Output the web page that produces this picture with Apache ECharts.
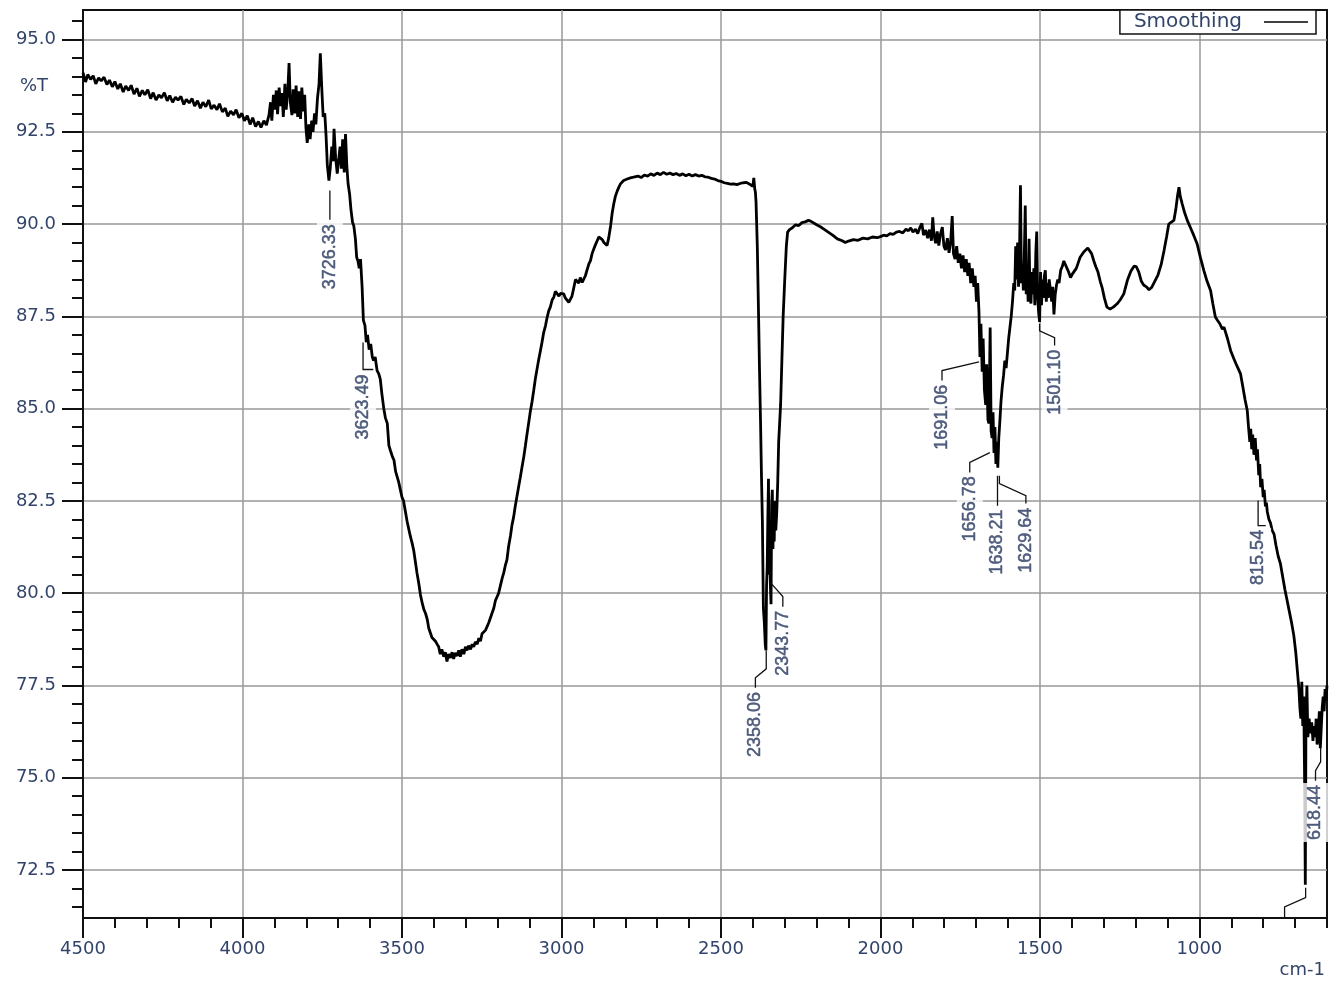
<!DOCTYPE html>
<html style="height: 100%">

<head>
    <meta charset="utf-8">
</head>

<body style="height: 100%; margin: 0; background: #fff">
    <div id="container" style="width: 1338px; height: 982px"></div>
    <script type="text/javascript" src="https://cdn.jsdelivr.net/npm/echarts@6/dist/echarts.min.js"></script>
    <script type="text/javascript">
        // spectrum: [wavenumber cm-1, %T]
        var flat4500 = [
            [4500, 94.10], [4492, 93.85], [4485, 94.05], [4476, 93.92], [4468, 94.02], [4460, 93.80], [4451, 93.96],
            [4443, 93.88], [4434, 93.98], [4425, 93.78], [4417, 93.90], [4408, 93.72], [4400, 93.86], [4391, 93.66],
            [4383, 93.80], [4374, 93.58], [4366, 93.74], [4357, 93.62], [4349, 93.76], [4340, 93.52], [4331, 93.68],
            [4323, 93.46], [4314, 93.62], [4306, 93.50], [4297, 93.64], [4288, 93.40], [4280, 93.56], [4271, 93.36],
            [4262, 93.50], [4254, 93.42], [4245, 93.56], [4236, 93.34], [4228, 93.48], [4219, 93.30], [4210, 93.44],
            [4202, 93.36], [4193, 93.46], [4184, 93.24], [4176, 93.38], [4167, 93.28], [4158, 93.40], [4150, 93.20],
            [4141, 93.34], [4132, 93.14], [4124, 93.30], [4115, 93.18], [4106, 93.36], [4098, 93.12], [4089, 93.22],
            [4080, 93.10], [4072, 93.26], [4063, 93.04], [4054, 93.14], [4046, 92.92], [4037, 93.06], [4028, 92.96],
            [4020, 93.10], [4011, 92.88], [4002, 93.00], [3994, 92.80], [3985, 92.94], [3976, 92.70], [3968, 92.88],
            [3959, 92.64], [3950, 92.78], [3942, 92.62], [3933, 92.80], [3925, 92.68]
        ];
        var noisy3900 = [
            [3917, 92.95], [3912, 93.30], [3908, 92.80], [3903, 93.50], [3899, 93.10], [3894, 93.62], [3890, 92.98],
            [3885, 93.70], [3881, 93.20], [3876, 93.55], [3872, 92.90], [3867, 93.80], [3863, 93.10], [3858, 93.60],
            [3854, 94.36], [3850, 93.30], [3845, 92.95], [3841, 93.65], [3836, 93.00], [3832, 93.75], [3827, 92.90],
            [3823, 93.60], [3818, 92.85], [3814, 93.70], [3809, 93.05], [3805, 93.50], [3801, 92.60], [3797, 92.20],
            [3792, 92.70], [3788, 92.30], [3783, 92.80], [3779, 92.50], [3774, 93.00], [3770, 92.70], [3765, 93.40],
            [3760, 93.80], [3756, 94.63], [3751, 93.60], [3747, 92.90], [3742, 93.00], [3738, 92.40], [3734, 91.60],
            [3729, 91.18], [3725, 91.50], [3720, 92.10], [3716, 91.70], [3713, 92.58], [3708, 91.80], [3703, 91.37],
            [3699, 91.70], [3694, 92.10], [3690, 91.50], [3686, 92.30], [3681, 91.40], [3677, 92.44], [3673, 91.60],
            [3669, 91.10], [3664, 90.80], [3660, 90.40], [3655, 90.05], [3651, 89.95], [3646, 89.60], [3642, 89.10],
            [3638, 89.00], [3634, 88.80], [3630, 89.05], [3625, 88.30], [3621, 87.40], [3616, 87.25], [3612, 86.80],
            [3608, 87.00], [3603, 86.60]
        ];
        var ohBand = [
            [3598, 86.75], [3593, 86.40], [3589, 86.30], [3584, 86.40], [3578, 86.03], [3573, 85.95], [3568, 85.80],
            [3563, 85.40], [3557, 85.00], [3552, 84.75], [3546, 84.60], [3541, 84.00], [3536, 83.86], [3530, 83.70],
            [3525, 83.60], [3520, 83.30], [3515, 83.25], [3510, 83.00], [3505, 82.80], [3500, 82.60], [3495, 82.50],
            [3489, 82.20], [3484, 81.95], [3479, 81.75], [3474, 81.55], [3468, 81.35], [3463, 81.15], [3458, 80.85],
            [3453, 80.55], [3447, 80.25], [3442, 79.95], [3437, 79.75], [3431, 79.55], [3426, 79.45], [3421, 79.30],
            [3416, 79.05], [3411, 79.00], [3406, 78.80], [3400, 78.75], [3395, 78.70], [3390, 78.62], [3385, 78.55],
            [3380, 78.35], [3375, 78.48], [3369, 78.28], [3364, 78.40], [3359, 78.15], [3354, 78.35], [3348, 78.25],
            [3343, 78.40], [3338, 78.22], [3333, 78.38], [3327, 78.30], [3322, 78.45], [3317, 78.28], [3312, 78.48],
            [3306, 78.35], [3301, 78.55], [3296, 78.45], [3291, 78.58], [3285, 78.48], [3280, 78.62], [3275, 78.55],
            [3270, 78.68], [3264, 78.62], [3259, 78.78], [3254, 78.70], [3249, 78.90], [3244, 78.88], [3238, 79.00],
            [3233, 79.05], [3228, 79.20], [3223, 79.15], [3218, 79.45], [3212, 79.60], [3207, 79.80], [3202, 79.75],
            [3197, 80.00], [3192, 80.05], [3186, 80.40], [3181, 80.55], [3176, 80.75], [3171, 80.90], [3166, 81.25],
            [3160, 81.55], [3155, 81.85], [3150, 82.06], [3145, 82.35], [3140, 82.60], [3134, 82.90], [3129, 83.14],
            [3124, 83.40], [3118, 83.70], [3113, 84.00], [3108, 84.31], [3103, 84.60], [3098, 84.90], [3092, 85.20],
            [3087, 85.49], [3082, 85.80], [3077, 86.05], [3072, 86.30], [3066, 86.57], [3061, 86.80], [3056, 87.05],
            [3050, 87.25], [3045, 87.47], [3040, 87.65], [3035, 87.75], [3029, 87.95], [3024, 88.02], [3019, 88.18],
            [3014, 88.15], [3008, 88.05], [3003, 88.12], [2998, 88.08], [2993, 88.11], [2988, 88.00], [2982, 87.95],
            [2977, 87.88], [2972, 87.84], [2967, 88.05], [2962, 88.25], [2956, 88.50], [2951, 88.47], [2946, 88.40],
            [2941, 88.55], [2935, 88.42], [2930, 88.38], [2925, 88.60], [2920, 88.75], [2914, 88.92], [2909, 89.01],
            [2904, 89.20], [2899, 89.32], [2893, 89.45], [2888, 89.55], [2883, 89.65], [2878, 89.64], [2872, 89.58],
            [2867, 89.50], [2862, 89.45], [2857, 89.42], [2852, 89.62], [2846, 89.95], [2841, 90.30], [2836, 90.55],
            [2831, 90.75], [2825, 90.90], [2820, 91.00], [2815, 91.09], [2810, 91.10], [2805, 91.18], [2799, 91.15],
            [2794, 91.22], [2789, 91.20], [2784, 91.25], [2778, 91.22], [2774, 91.27], [2760, 91.30], [2750, 91.26],
            [2740, 91.33], [2730, 91.30], [2720, 91.36], [2710, 91.32], [2700, 91.38], [2690, 91.34], [2680, 91.40],
            [2670, 91.35], [2660, 91.38], [2650, 91.34], [2640, 91.37], [2630, 91.32], [2620, 91.36], [2610, 91.31],
            [2600, 91.35], [2590, 91.30], [2580, 91.34], [2570, 91.30], [2560, 91.32], [2550, 91.28], [2540, 91.27],
            [2530, 91.24], [2520, 91.22], [2510, 91.18], [2500, 91.16], [2490, 91.12], [2480, 91.10], [2470, 91.08],
            [2460, 91.09], [2450, 91.07], [2440, 91.10], [2430, 91.12], [2420, 91.13], [2410, 91.08], [2405, 91.05],
            [2400, 91.02], [2397, 91.25], [2394, 90.95], [2392, 90.87]
        ];
        var co2Band = [
            [2390, 90.60], [2386, 89.40], [2382, 87.50], [2379, 86.00], [2376, 84.70], [2373, 83.20], [2370, 81.90],
            [2367, 79.60], [2364, 79.20], [2361, 78.60], [2359, 78.45], [2357, 80.20], [2355, 80.70], [2353, 82.00],
            [2351, 83.10], [2349, 80.50], [2347, 81.80], [2345, 80.20], [2343, 79.70], [2341, 82.40], [2339, 82.80],
            [2337, 81.20], [2335, 82.10], [2333, 81.40], [2331, 82.50], [2328, 81.70], [2325, 82.20], [2322, 83.00],
            [2319, 84.10], [2316, 84.60], [2313, 85.10], [2309, 86.30], [2305, 87.50], [2300, 88.50], [2295, 89.40],
            [2291, 89.78], [2285, 89.85], [2276, 89.90], [2266, 89.98], [2256, 89.96], [2246, 90.04], [2236, 90.06],
            [2226, 90.10], [2219, 90.08]
        ];
        var midRange = [
            [2200, 89.98], [2187, 89.92], [2175, 89.85], [2167, 89.80], [2150, 89.70], [2135, 89.60], [2120, 89.55],
            [2110, 89.50], [2100, 89.54], [2085, 89.58], [2070, 89.56], [2055, 89.62], [2040, 89.60], [2025, 89.65],
            [2010, 89.63], [2000, 89.66], [1990, 89.70], [1980, 89.68], [1970, 89.74], [1960, 89.72], [1950, 89.78],
            [1940, 89.80], [1930, 89.76], [1920, 89.86], [1912, 89.82], [1905, 89.90], [1898, 89.78], [1890, 89.86],
            [1883, 89.74], [1876, 89.92], [1870, 90.02], [1865, 89.70], [1858, 89.84], [1852, 89.62], [1846, 89.85],
            [1840, 89.55], [1836, 90.18], [1832, 89.70], [1827, 89.48], [1822, 89.80], [1817, 89.42], [1812, 89.72],
            [1806, 89.92], [1801, 89.40], [1796, 89.30], [1790, 89.62], [1785, 89.22], [1780, 89.50], [1775, 90.22],
            [1771, 89.20], [1766, 89.05], [1761, 89.40], [1756, 88.95], [1751, 89.20], [1746, 88.80], [1741, 89.15],
            [1736, 88.70], [1731, 89.05], [1726, 88.60], [1722, 88.95], [1717, 88.40], [1712, 88.80], [1707, 88.30],
            [1703, 88.60], [1699, 87.90], [1695, 88.40], [1691, 87.60], [1688, 86.40], [1685, 87.30], [1681, 86.00],
            [1678, 86.90], [1674, 85.50], [1670, 85.10], [1667, 86.20], [1663, 84.70], [1660, 84.60], [1656, 87.20],
            [1653, 84.40], [1650, 84.20], [1647, 84.90], [1644, 83.80], [1641, 84.50], [1638, 83.50], [1635, 84.10],
            [1632, 83.40], [1629, 84.20], [1626, 84.60], [1622, 85.20], [1618, 85.60], [1614, 85.90], [1610, 86.30],
            [1606, 86.10], [1602, 86.50], [1598, 86.90], [1594, 87.20], [1590, 87.50], [1586, 87.90], [1582, 88.40],
            [1579, 88.20], [1576, 89.40], [1573, 88.50], [1570, 89.50], [1567, 88.30], [1564, 89.20], [1561, 91.05],
            [1558, 88.40], [1555, 88.90], [1552, 88.20], [1549, 89.10], [1546, 90.50], [1543, 88.10], [1540, 88.80],
            [1537, 87.90], [1534, 89.60], [1531, 88.00], [1528, 87.85], [1525, 88.70], [1522, 88.10], [1519, 88.80],
            [1516, 87.80], [1513, 89.20], [1510, 89.80], [1507, 88.00], [1504, 87.60], [1501, 87.35], [1498, 88.70],
            [1495, 87.80], [1492, 88.50], [1489, 88.00], [1486, 88.60], [1483, 88.75], [1480, 87.90], [1477, 88.40],
            [1474, 88.00], [1471, 88.50], [1467, 88.45], [1463, 87.90], [1460, 88.30], [1456, 87.55], [1452, 88.10],
            [1448, 88.35], [1444, 88.50], [1440, 88.40], [1435, 88.75], [1430, 88.85], [1425, 89.00], [1420, 88.90],
            [1415, 88.80], [1410, 88.70], [1404, 88.55], [1398, 88.65], [1392, 88.70], [1386, 88.80], [1380, 88.95],
            [1374, 89.10], [1368, 89.15], [1362, 89.25], [1356, 89.30], [1350, 89.35], [1344, 89.30], [1338, 89.20],
            [1331, 89.00], [1325, 88.85], [1318, 88.70], [1311, 88.45], [1305, 88.28], [1298, 88.00], [1290, 87.75]
        ];
        var fingerprint = [
            [1280, 87.70], [1270, 87.75], [1258, 87.84], [1248, 87.95], [1237, 88.11], [1226, 88.47], [1215, 88.72],
            [1205, 88.86], [1198, 88.85], [1190, 88.70], [1182, 88.45], [1175, 88.35], [1166, 88.30], [1158, 88.22],
            [1150, 88.28], [1140, 88.45], [1130, 88.62], [1120, 88.90], [1111, 89.28], [1103, 89.65], [1096, 90.00],
            [1088, 90.05], [1080, 90.10], [1074, 90.40], [1068, 90.80], [1064, 91.00], [1060, 90.75], [1054, 90.55],
            [1046, 90.30], [1038, 90.10], [1028, 89.90], [1018, 89.70], [1007, 89.46], [997, 89.10], [986, 88.74],
            [976, 88.45], [965, 88.20], [958, 87.85], [950, 87.48], [944, 87.40], [936, 87.30], [928, 87.15],
            [923, 87.21], [912, 86.90], [902, 86.57], [892, 86.35], [882, 86.15], [871, 85.94], [864, 85.60],
            [857, 85.25], [850, 84.95], [846, 84.50], [842, 84.10], [839, 84.45], [836, 83.90], [833, 84.30],
            [829, 83.75], [825, 84.20], [821, 83.60], [818, 83.90], [814, 83.20], [811, 83.50], [808, 82.87],
            [804, 83.10], [800, 82.60], [797, 82.80], [793, 82.35], [790, 82.45], [787, 82.20], [782, 82.00],
            [777, 81.90], [772, 81.70], [766, 81.60], [760, 81.30], [753, 81.00], [746, 80.80], [740, 80.50],
            [732, 80.10], [725, 79.80], [718, 79.50], [711, 79.20], [704, 78.85], [698, 78.40], [693, 77.90],
            [688, 77.40], [685, 76.90], [682, 76.60], [679, 77.60], [676, 76.40], [673, 77.20], [670, 74.80],
            [668, 72.10], [666, 76.50], [663, 77.50], [660, 76.10], [656, 76.60], [652, 76.20], [648, 76.50],
            [644, 76.00], [641, 76.40], [637, 76.10], [634, 76.60], [631, 75.90], [627, 76.30], [624, 76.80],
            [621, 75.80], [618, 75.85], [615, 76.90], [612, 77.20], [609, 76.80], [606, 77.40], [603, 77.10],
            [600, 77.50]
        ];

        // peak labels: text, where the text starts, and the leader line to the peak
        var peakNames = ['3726.33', '3623.49', '2358.06', '2343.77', '1691.06', '1656.78',
            '1638.21', '1629.64', '1501.10', '815.54', '618.44'];
        var peakTextAt = [[3726, 90.05], [3622, 85.98], [2392, 77.38], [2306, 79.58], [1807, 85.70], [1720, 83.22],
            [1633, 82.32], [1544, 82.37], [1454, 86.65], [816, 81.77], [636, 74.86]];
        var peakLeaders = [
            [[3726, 90.91], [3726, 90.12]],
            [[3590, 86.06], [3622, 86.06], [3622, 86.79]],
            [[2358, 78.44], [2358, 77.95], [2392, 77.71], [2392, 77.44]],
            [[2344, 80.28], [2306, 79.91], [2306, 79.63]],
            [[1691, 86.27], [1807, 86.03], [1807, 85.76]],
            [[1657, 83.81], [1720, 83.54], [1720, 83.27]],
            [[1633, 83.18], [1633, 82.37]],
            [[1627, 83.18], [1627, 82.97], [1544, 82.64], [1544, 82.43]],
            [[1501, 87.30], [1501, 87.11], [1454, 86.92], [1454, 86.71]],
            [[792, 81.83], [816, 81.83], [816, 82.51]],
            [[620, 75.81], [620, 75.43], [636, 75.19], [636, 74.92]],
            [[667, 72.02], [667, 71.75], [733, 71.50], [733, 71.2]]
        ];

        var xMajor = [4500, 4000, 3500, 3000, 2500, 2000, 1500, 1000];
        var xMinor = [];
        for (var w = 4500; w >= 600; w -= 100) xMinor.push(w);
        var yMajor = [72.5, 75, 77.5, 80, 82.5, 85, 87.5, 90, 92.5, 95];
        var yMinor = [];
        for (var t = 71.5; t <= 95.6; t += 0.5) yMinor.push(+t.toFixed(1));

        var spectrum = flat4500.concat(noisy3900, ohBand, co2Band, midRange, fingerprint);

        var txtColor = '#33446a';
        var peakColor = '#2a3b62';
        var font = 'DejaVu Sans';

        var dom = document.getElementById("container");
        var myChart = echarts.init(dom);

        var peakPoints = peakNames.map(function (n, i) {
            return { name: n, value: peakTextAt[i] };
        });

        option = {
            backgroundColor: '#fff',
            animation: false,
            grid: {
                left: 83, right: 11, top: 10, bottom: 64,
                show: true, borderColor: '#111', borderWidth: 2,
                outerBoundsMode: 'none'
            },
            legend: {
                data: ['Smoothing'],
                top: 10, right: 22,
                align: 'right',
                icon: 'rect',
                itemWidth: 44, itemHeight: 1.5,
                backgroundColor: '#fff',
                borderColor: '#111', borderWidth: 1.5,
                padding: [2, 8, 2, 14],
                textStyle: { color: txtColor, fontSize: 20, fontFamily: font, padding: [0, 17, 0, 0] }
            },
            xAxis: [{
                type: 'value', position: 'bottom', min: 600, max: 4500, inverse: true,
                axisLine: { show: true, lineStyle: { color: '#111', width: 2 } },
                axisTick: { show: true, length: 20, customValues: xMajor, lineStyle: { color: '#111', width: 2 } },
                axisLabel: {
                    customValues: xMajor, margin: 22, color: txtColor, fontSize: 18, fontFamily: font,
                    formatter: function (v) { return String(v); }
                },
                splitLine: { show: true, lineStyle: { color: '#999', width: 1.5 } }
            }, {
                type: 'value', position: 'bottom', min: 600, max: 4500, inverse: true,
                axisLine: { show: false },
                axisTick: { show: true, length: 10, customValues: xMinor, lineStyle: { color: '#111', width: 2 } },
                axisLabel: { show: false },
                splitLine: { show: false }
            }],
            yAxis: [{
                type: 'value', position: 'left', min: 71.2, max: 95.8,
                axisLine: { show: true, lineStyle: { color: '#111', width: 2 } },
                axisTick: { show: true, length: 21, customValues: yMajor, lineStyle: { color: '#111', width: 2 } },
                axisLabel: {
                    customValues: yMajor, margin: 27, color: txtColor, fontSize: 18, fontFamily: font,
                    formatter: function (v) { return v.toFixed(1); }
                },
                splitLine: { show: true, lineStyle: { color: '#999', width: 1.5 } }
            }, {
                type: 'value', position: 'left', min: 71.2, max: 95.8,
                axisLine: { show: false },
                axisTick: { show: true, length: 11, customValues: yMinor, lineStyle: { color: '#111', width: 2 } },
                axisLabel: { show: false },
                splitLine: { show: false }
            }],
            graphic: [
                { type: 'text', left: 20, top: 77, style: { text: '%T', fill: txtColor, font: '18px "DejaVu Sans"' } },
                { type: 'text', right: 13, top: 961, style: { text: 'cm-1', fill: txtColor, font: '18px "DejaVu Sans"' } }
            ],
            series: [
                {
                    name: 'Smoothing',
                    type: 'line',
                    data: spectrum,
                    symbol: 'none',
                    showSymbol: false,
                    lineStyle: { color: '#000', width: 2.8 },
                    itemStyle: { color: '#000' },
                    z: 2
                },
                {
                    name: 'leaders',
                    type: 'lines',
                    coordinateSystem: 'cartesian2d',
                    polyline: true,
                    silent: true,
                    lineStyle: { color: '#111', width: 1.3, opacity: 1 },
                    data: peakLeaders.map(function (c) { return { coords: c }; }),
                    z: 4
                },
                {
                    name: 'peaks',
                    type: 'scatter',
                    symbolSize: 1,
                    itemStyle: { color: 'rgba(0,0,0,0)' },
                    silent: true,
                    data: peakPoints,
                    label: {
                        show: true,
                        position: 'inside',
                        formatter: '{b}',
                        rotate: 90,
                        align: 'right',
                        verticalAlign: 'middle',
                        color: peakColor,
                        textBorderColor: peakColor,
                        textBorderWidth: 0.5,
                        fontSize: 18,
                        fontFamily: 'Liberation Sans',
                        backgroundColor: '#fff',
                        padding: [4, 2, 4, 2]
                    },
                    z: 5
                }
            ]
        };

        if (option && typeof option === "object") {
            myChart.setOption(option, true);
        }
    </script>
</body>

</html>
